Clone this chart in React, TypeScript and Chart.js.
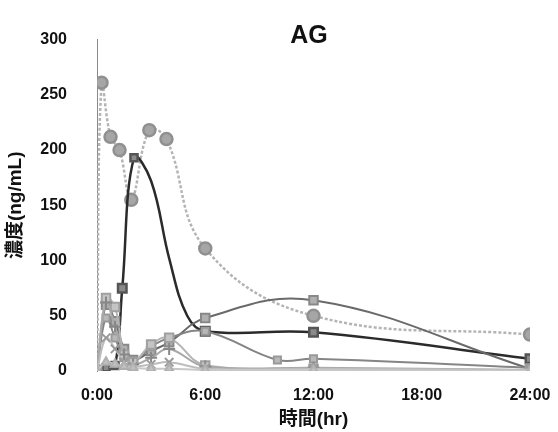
import React, { useEffect, useRef } from "react";
import { Chart, registerables } from "chart.js";

Chart.register(...registerables);

const CHART_TITLE = "AG";
const Y_TITLE = "濃度(ng/mL)";
const X_TITLE = "時間(hr)";
const X_TICK_LABELS = ["0:00", "6:00", "12:00", "18:00", "24:00"];

// times (hr) and concentrations (ng/mL) per subject
const T_A = [0, 0.25, 0.75, 1.25, 1.9, 2.9, 3.85, 6, 12, 24];
const V_A = [0, 261, 212, 200, 155, 218, 210, 111, 50, 33];

const T_B = [0, 0.5, 1, 1.4, 2.05, 3, 4, 5, 6, 12, 24];
const V_B = [0, 3, 5, 75, 193, 172, 102, 50, 36, 35, 11];

const T_C = [0, 0.5, 1, 1.5, 2, 3, 4, 6, 12, 24];
const V_C = [0, 60, 45, 20, 10, 18, 26, 48, 64, 2];

const T_D = [0, 0.5, 1, 1.5, 2, 3, 4, 6, 10, 12, 24];
const V_D = [0, 48, 30, 12, 8, 22, 30, 36, 10, 11, 3];

const T_E = [0, 0.5, 1, 1.5, 2, 3, 4, 6, 12, 24];
const V_E = [0, 62, 40, 15, 6, 12, 20, 4, 3, 1];

const T_F = [0, 0.5, 1, 1.5, 2, 3, 4, 6, 12, 24];
const V_F = [0, 30, 20, 8, 4, 6, 8, 2, 2, 1];

const T_G = [0, 0.5, 1, 1.5, 2, 3, 4, 6, 12, 24];
const V_G = [0, 8, 6, 4, 3, 2, 2, 1, 1, 0];

const T_H = [0, 0.5, 1, 1.5, 2, 3, 4, 6, 12, 24];
const V_H = [0, 66, 58, 15, 8, 24, 30, 5, 2, 1];

const FONT = "'Liberation Sans', Arial, 'Noto Sans CJK JP', sans-serif";

function pts(t: number[], v: number[]) {
  return t.map((x, i) => ({ x, y: v[i] }));
}

export default function App() {
  const ref = useRef<HTMLCanvasElement | null>(null);

  useEffect(() => {
    if (!ref.current) return;
    const titlePlugin = {
      id: "agTitle",
      afterDraw(chart: any) {
        const ctx = chart.ctx;
        ctx.save();
        ctx.font = `bold 25px ${FONT}`;
        ctx.fillStyle = "#111";
        ctx.textAlign = "center";
        ctx.textBaseline = "middle";
        ctx.fillText(CHART_TITLE, 309, 36);
        ctx.restore();
      },
    };
    const mk = (label: string, t: number[], v: number[], o: any) => ({
      label,
      data: pts(t, v),
      tension: 0.4,
      borderWidth: 2,
      pointRadius: 5,
      ...o,
    });
    const chart = new Chart(ref.current, {
      type: "line",
      data: {
        datasets: [
          mk("G", T_G, V_G, { borderColor: "#c8c8c8", pointStyle: "triangle", pointBackgroundColor: "#c0c0c0", pointBorderColor: "#b0b0b0" }),
          mk("F", T_F, V_F, { borderColor: "#bdbdbd", pointStyle: "crossRot", pointBorderColor: "#999", pointRadius: 6 }),
          mk("E", T_E, V_E, { borderColor: "#a8a8a8", pointStyle: "cross", pointBorderColor: "#888", pointRadius: 6 }),
          mk("H", T_H, V_H, { borderColor: "#b4b4b4", pointStyle: "rect", pointBackgroundColor: "#c4c4c4", pointBorderColor: "#a0a0a0", pointRadius: 6 }),
          mk("D", T_D, V_D, { borderColor: "#858585", pointStyle: "rect", pointBackgroundColor: "#b8b8b8", pointBorderColor: "#999" }),
          mk("C", T_C, V_C, { borderColor: "#6a6a6a", pointStyle: "rect", pointBackgroundColor: "#b0b0b0", pointBorderColor: "#888", pointRadius: 6 }),
          mk("B", T_B, V_B, { borderColor: "#2b2b2b", borderWidth: 2.5, pointStyle: "rect", pointBackgroundColor: "#8a8a8a", pointBorderColor: "#555", pointRadius: [5, 5, 5, 6, 5, 0, 0, 0, 6, 6, 6] }),
          mk("A", T_A, V_A, { borderColor: "#b4b4b4", borderDash: [3, 2], borderWidth: 2.5, pointStyle: "circle", pointBackgroundColor: "#a6a6a6", pointBorderColor: "#909090", pointRadius: 6 }),
        ],
      },
      options: {
        animation: false,
        responsive: false,
        layout: { padding: { top: 25, right: 28, left: 0, bottom: 0 } },
        plugins: { legend: { display: false }, tooltip: { enabled: false }, title: { display: false } },
        scales: {
          x: {
            type: "linear",
            min: 0,
            max: 24,
            afterFit: (s: any) => { s.height = 61; s.paddingRight = 0; s.paddingLeft = 0; },
            afterBuildTicks: (s: any) => {
              s.ticks = X_TICK_LABELS.map((_, i) => ({ value: i * 6 }));
            },
            grid: { display: false, drawTicks: false },
            border: { display: false },
            ticks: {
              padding: 15,
              color: "#111",
              font: { family: FONT, size: 16, weight: "bold" },
              callback: (v: any) => X_TICK_LABELS[Math.round(Number(v) / 6)] ?? "",
              maxRotation: 0,
            },
            title: {
              display: true,
              text: X_TITLE,
              color: "#111",
              font: { family: FONT, size: 19, weight: "bold" },
              padding: { top: 0, bottom: 1 },
            },
          },
          y: {
            min: 0,
            max: 300,
            afterFit: (s: any) => { s.width = 97; },
            grid: { display: false, drawTicks: false },
            border: { display: true, color: "#8a8a8a", width: 1 },
            ticks: {
              stepSize: 50,
              padding: 30,
              color: "#111",
              font: { family: FONT, size: 16, weight: "bold" },
            },
            title: {
              display: true,
              text: Y_TITLE,
              color: "#111",
              font: { family: FONT, size: 19, weight: "bold" },
              padding: { top: 4, bottom: 0 },
            },
          },
        },
      },
      plugins: [titlePlugin],
    } as any);
    return () => chart.destroy();
  }, []);

  return (
    <div style={{ position: "fixed", left: 0, top: 0, width: 558, height: 432, background: "#fff" }}>
      <canvas ref={ref} width={558} height={432} style={{ display: "block" }} />
    </div>
  );
}
